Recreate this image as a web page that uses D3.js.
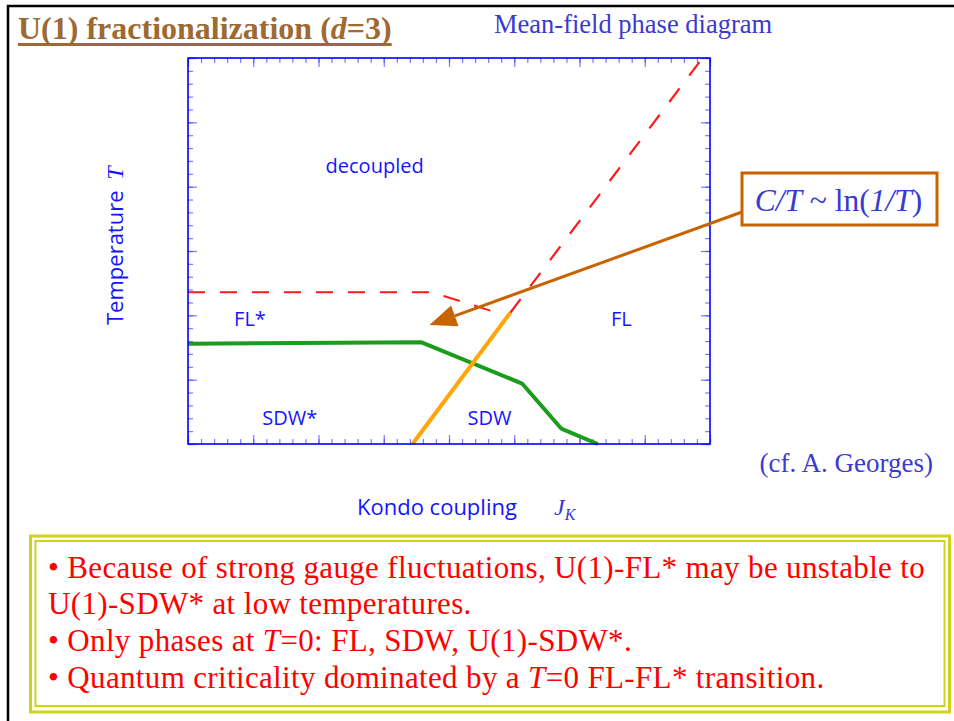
<!DOCTYPE html>
<html>
<head>
<meta charset="utf-8">
<script src="https://cdn.jsdelivr.net/npm/d3@7"></script>
<style>
  body { margin: 0; background: #fff; }
  svg { display: block; }
</style>
</head>
<body>
<svg id="slide" width="954" height="721"></svg>
<script>
// Phase boundaries, in plot units (J_K across 0..40, T up 0..30)
var greenJ = [0, 17.9, 25.6, 28.6, 31.4];
var greenT = [7.8, 7.9, 4.7, 1.2, 0];
var orangeJ = [17.2, 24.7];
var orangeT = [0, 10.2];
var dashDiagJ = [24.7, 39.2];
var dashDiagT = [10.2, 29.7];
var dashFlatJ = [0, 18.4, 19.6, 24.0];
var dashFlatT = [11.8, 11.8, 11.5, 10.1];

// Phase names and where they sit
var phaseNames = ["decoupled", "FL*", "FL", "SDW*", "SDW"];
var phaseJ = [14.3, 4.75, 33.2, 7.8, 23.1];
var phaseT = [21.1, 9.15, 9.15, 1.5, 1.5];

// Arrow tip (plot units)
var arrowTipJ = 18.5, arrowTipT = 9.25;

// Bullet text
var bulletLines = [
  [["• Because of strong gauge fluctuations, U(1)-FL* may be unstable to", false]],
  [["U(1)-SDW* at low temperatures.", false]],
  [["• Only phases at ", false], ["T", true], ["=0: FL, SDW, U(1)-SDW*.", false]],
  [["• Quantum criticality dominated by a ", false], ["T", true], ["=0 FL-FL* transition.", false]]
];

var svg = d3.select("#slide");
var serif = "'Liberation Serif', 'Times New Roman', serif";
var sans = "'Open Sans', 'DejaVu Sans', sans-serif";

// slide frame
svg.append("path")
    .attr("d", "M8,721V6H954")
    .attr("fill", "none")
    .attr("stroke", "#000")
    .attr("stroke-width", 2.5);

// title
var title = svg.append("text")
    .attr("x", 18)
    .attr("y", 39)
    .attr("font-family", serif)
    .attr("font-weight", "bold")
    .attr("font-size", 32)
    .attr("fill", "#9c6a32");
title.append("tspan").text("U(1) fractionalization (");
title.append("tspan").attr("font-style", "italic").text("d");
title.append("tspan").text("=3)");
var titleW = title.node().getComputedTextLength();
svg.append("line")
    .attr("x1", 18).attr("x2", 18 + titleW)
    .attr("y1", 44.5).attr("y2", 44.5)
    .attr("stroke", "#9c6a32")
    .attr("stroke-width", 3);

svg.append("text")
    .attr("x", 494)
    .attr("y", 33)
    .attr("font-family", serif)
    .attr("font-size", 26.5)
    .attr("fill", "#3a3ad0")
    .text("Mean-field phase diagram");

// Scales
var x = d3.scaleLinear().domain([0, 40]).range([188, 710]);
var y = d3.scaleLinear().domain([0, 30]).range([444, 58]);

var plot = svg.append("g");

// ticks (all inward), minor then major
function tickAxis(axis, tx, ty, n, step, len) {
  var vals = d3.range(0, n + 1, step);
  var g = plot.append("g")
      .attr("transform", "translate(" + tx + "," + ty + ")")
      .call(axis.tickValues(vals).tickSize(-len).tickFormat(""));
  g.select(".domain").remove();
  g.selectAll("line")
      .attr("stroke", "#4d4dff")
      .attr("stroke-opacity", 0.75)
      .attr("stroke-width", 1.2);
}
tickAxis(d3.axisTop(x), 0, y(30), 40, 1, 5);
tickAxis(d3.axisTop(x), 0, y(30), 40, 5, 9);
tickAxis(d3.axisBottom(x), 0, y(0), 40, 1, 5);
tickAxis(d3.axisBottom(x), 0, y(0), 40, 5, 9);
tickAxis(d3.axisLeft(y), x(0), 0, 30, 1, 5);
tickAxis(d3.axisLeft(y), x(0), 0, 30, 5, 9);
tickAxis(d3.axisRight(y), x(40), 0, 30, 1, 5);
tickAxis(d3.axisRight(y), x(40), 0, 30, 5, 9);

var line = d3.line()
    .x(function (d) { return x(d[0]); })
    .y(function (d) { return y(d[1]); });

// crossover (dashed red)
plot.append("path")
    .attr("d", line(d3.zip(dashFlatJ, dashFlatT)))
    .attr("fill", "none")
    .attr("stroke", "#ff1a1a")
    .attr("stroke-width", 2)
    .attr("stroke-dasharray", "17,15");
plot.append("path")
    .attr("d", line(d3.zip(dashDiagJ, dashDiagT)))
    .attr("fill", "none")
    .attr("stroke", "#ff1a1a")
    .attr("stroke-width", 2.2)
    .attr("stroke-dasharray", "17,16");

// FL* / SDW* boundary (green)
plot.append("path")
    .attr("d", line(d3.zip(greenJ, greenT)))
    .attr("fill", "none")
    .attr("stroke", "#1c9c1c")
    .attr("stroke-width", 4)
    .attr("stroke-linejoin", "round");

// orange line
plot.append("path")
    .attr("d", line(d3.zip(orangeJ, orangeT)))
    .attr("fill", "none")
    .attr("stroke", "#ffa50a")
    .attr("stroke-width", 4);

// plot frame
plot.append("rect")
    .attr("x", x(0))
    .attr("y", y(30))
    .attr("width", x(40) - x(0))
    .attr("height", y(0) - y(30))
    .attr("fill", "none")
    .attr("stroke", "#0000ff")
    .attr("stroke-width", 1.6);

// phase labels
plot.selectAll(".phase")
    .data(phaseNames)
    .enter()
    .append("text")
    .attr("class", "phase")
    .attr("x", function (d, i) { return x(phaseJ[i]); })
    .attr("y", function (d, i) { return y(phaseT[i]); })
    .attr("text-anchor", "middle")
    .attr("font-family", sans)
    .attr("font-size", 20)
    .attr("fill", "#1414ff")
    .text(function (d) { return d; });

// axis titles
var yTitle = svg.append("text")
    .attr("transform", "translate(123,325) rotate(-90)")
    .attr("font-family", sans)
    .attr("font-size", 22)
    .attr("fill", "#1414ff");
yTitle.append("tspan").text("Temperature ");
yTitle.append("tspan")
    .attr("dx", 5)
    .attr("font-family", serif)
    .attr("font-style", "italic")
    .attr("font-size", 24)
    .text("T");

var xTitle = svg.append("text")
    .attr("x", 357)
    .attr("y", 515)
    .attr("font-family", sans)
    .attr("font-size", 22)
    .attr("fill", "#1414ff");
xTitle.append("tspan").text("Kondo coupling");
xTitle.append("tspan")
    .attr("x", 554)
    .attr("font-family", serif)
    .attr("font-style", "italic")
    .attr("font-size", 24)
    .attr("fill", "#3a3ad0")
    .text("J");
xTitle.append("tspan")
    .attr("dy", 5)
    .attr("font-family", serif)
    .attr("font-style", "italic")
    .attr("font-size", 16)
    .attr("fill", "#3a3ad0")
    .text("K");

svg.append("text")
    .attr("x", 933)
    .attr("y", 472)
    .attr("text-anchor", "end")
    .attr("font-family", serif)
    .attr("font-size", 27)
    .attr("fill", "#3a3ad0")
    .text("(cf. A. Georges)");

// annotation box + arrow
var boxX = 742, boxY = 173, boxW = 195, boxH = 52;
var ax0 = boxX, ay0 = 212;
var ax1 = x(arrowTipJ), ay1 = y(arrowTipT);
var ang = Math.atan2(ay1 - ay0, ax1 - ax0);
var headL = 27, headW = 11;
var bx = ax1 - headL * Math.cos(ang), by = ay1 - headL * Math.sin(ang);
svg.append("line")
    .attr("x1", ax0).attr("y1", ay0)
    .attr("x2", bx).attr("y2", by)
    .attr("stroke", "#c86400")
    .attr("stroke-width", 3);
svg.append("path")
    .attr("d", "M" + ax1 + "," + ay1 +
      "L" + (bx + headW * Math.sin(ang)) + "," + (by - headW * Math.cos(ang)) +
      "L" + (bx - headW * Math.sin(ang)) + "," + (by + headW * Math.cos(ang)) + "Z")
    .attr("fill", "#c86400");
svg.append("rect")
    .attr("x", boxX).attr("y", boxY)
    .attr("width", boxW).attr("height", boxH)
    .attr("fill", "#fff")
    .attr("stroke", "#c86400")
    .attr("stroke-width", 3);
var ann = svg.append("text")
    .attr("x", boxX + boxW / 2 - 1)
    .attr("y", 211)
    .attr("text-anchor", "middle")
    .attr("font-family", serif)
    .attr("font-size", 31.5)
    .attr("fill", "#3a3ad0");
ann.append("tspan").attr("font-style", "italic").text("C/T");
ann.append("tspan").text(" ~ ln(");
ann.append("tspan").attr("font-style", "italic").text("1/T");
ann.append("tspan").text(")");

// bullet box, double border
svg.append("rect")
    .attr("x", 30.5).attr("y", 536)
    .attr("width", 919).attr("height", 176)
    .attr("fill", "none")
    .attr("stroke", "#d2d21e")
    .attr("stroke-width", 3);
svg.append("rect")
    .attr("x", 35.5).attr("y", 541)
    .attr("width", 909).attr("height", 165)
    .attr("fill", "none")
    .attr("stroke", "#d2d21e")
    .attr("stroke-width", 2);

var lineY = [578, 614, 651, 688];
svg.selectAll(".bullet")
    .data(bulletLines)
    .enter()
    .append("text")
    .attr("class", "bullet")
    .attr("x", 48)
    .attr("y", function (d, i) { return lineY[i]; })
    .attr("font-family", serif)
    .attr("font-size", 31)
    .attr("letter-spacing", 0.35)
    .attr("fill", "#ff0000")
    .each(function (parts) {
      var t = d3.select(this);
      parts.forEach(function (p) {
        t.append("tspan")
            .attr("font-style", p[1] ? "italic" : null)
            .text(p[0]);
      });
    });
</script>
</body>
</html>
